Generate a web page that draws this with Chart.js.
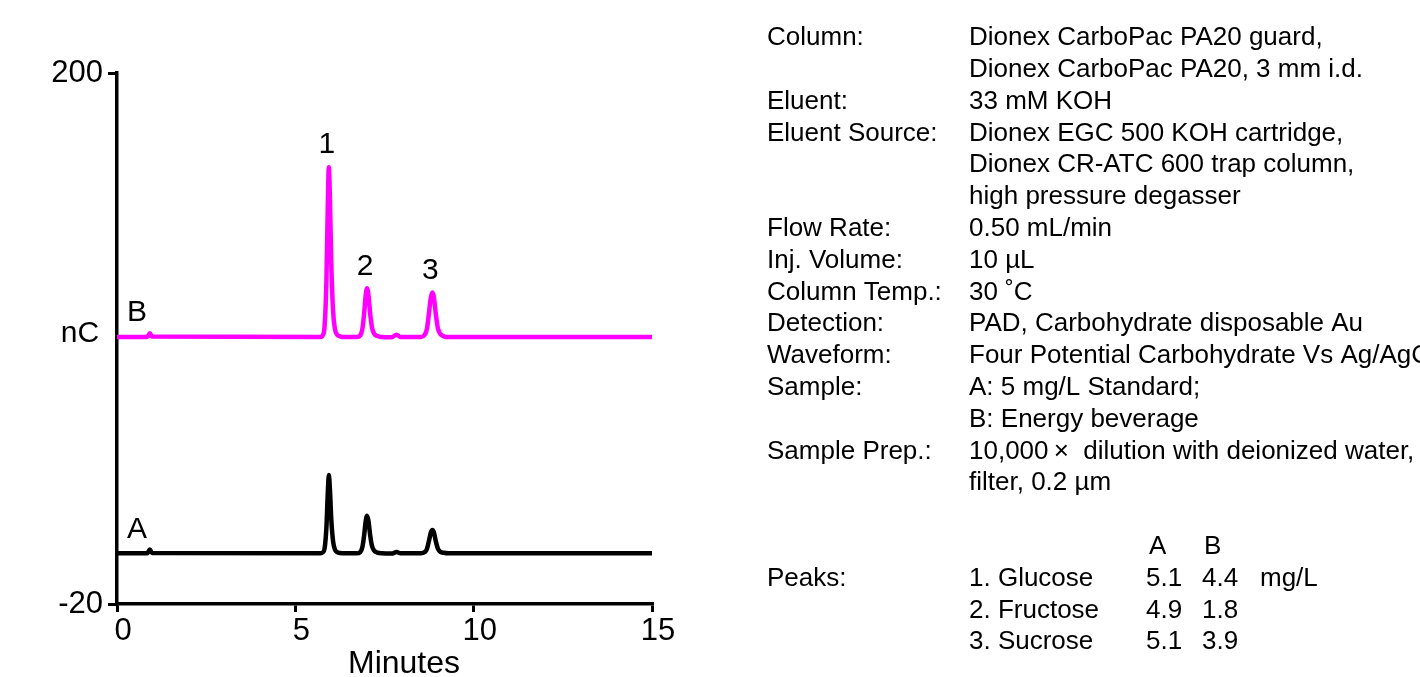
<!DOCTYPE html>
<html>
<head>
<meta charset="utf-8">
<script src="https://cdn.jsdelivr.net/npm/chart.js@4.4.1/dist/chart.umd.min.js"></script>
<style>
  html, body { margin: 0; padding: 0; background: #fff; }
  #wrap { width: 1420px; height: 677px; position: relative; }
</style>
</head>
<body>
<div id="wrap"><canvas id="c" width="1420" height="677"></canvas></div>
<script>
// ---- Data ----
const xTicks = [0, 5, 10, 15];
const yTicks = [-20, 200];

// Trace B (energy beverage), offset upward
const traceBTime  = [0, 0.85, 0.92, 0.98,
                     5.70, 5.77, 5.82, 5.87, 5.91, 5.94, 5.97, 6.01, 6.06, 6.11, 6.17, 6.25, 6.40,
                     6.72, 6.82, 6.88, 6.93, 6.97, 7.01, 7.05, 7.10, 7.15, 7.21, 7.30, 7.42,
                     7.70, 7.84, 7.95,
                     8.52, 8.62, 8.69, 8.75, 8.80, 8.84, 8.88, 8.94, 9.00, 9.07, 9.16, 9.30, 15];
const traceBValue = [90.6, 90.6, 92.2, 90.8,
                     90.6, 91.4, 95, 113, 145, 161, 148, 120, 101, 94, 91.6, 90.9, 90.6,
                     90.6, 91.3, 94, 100.5, 107.5, 110.8, 108, 100, 94.5, 92, 91, 90.6,
                     90.5, 91.6, 90.6,
                     90.6, 91.4, 94, 101, 107, 109.1, 107.5, 100, 94, 91.8, 90.9, 90.6, 90.6];

// Trace A (5 mg/L standard)
const traceATime  = [0, 0.85, 0.92, 0.98,
                     5.70, 5.77, 5.82, 5.87, 5.91, 5.94, 5.97, 6.01, 6.06, 6.11, 6.17, 6.25, 6.40,
                     6.72, 6.82, 6.88, 6.93, 6.97, 7.01, 7.05, 7.10, 7.15, 7.21, 7.30, 7.42,
                     7.70, 7.84, 7.95,
                     8.52, 8.62, 8.69, 8.75, 8.80, 8.84, 8.88, 8.94, 9.00, 9.07, 9.16, 9.30, 15];
const traceAValue = [1.0, 1.0, 2.6, 1.1,
                     1.0, 1.4, 3.0, 11.3, 26.0, 33.4, 27.4, 14.5, 5.8, 2.6, 1.5, 1.1, 1.0,
                     1.0, 1.5, 3.6, 8.6, 14.0, 16.6, 14.4, 8.3, 4.0, 2.1, 1.3, 1.0,
                     0.9, 1.5, 1.0,
                     1.0, 1.4, 2.8, 6.4, 9.6, 10.7, 9.9, 5.9, 2.8, 1.6, 1.2, 1.0, 1.0];

const peakLabels = ['1', '2', '3'];
const peakTimes  = [5.94, 7.01, 8.84];
const peakApexB  = [161, 110.8, 109.1];

const traceNames = ['B', 'A'];
const traceNameY = [90.6, 1.0];

const infoLabels = ['Column:', '', 'Eluent:', 'Eluent Source:', '', '', 'Flow Rate:', 'Inj. Volume:',
                    'Column Temp.:', 'Detection:', 'Waveform:', 'Sample:', '', 'Sample Prep.:', ''];
const infoValues = ['Dionex CarboPac PA20 guard,', 'Dionex CarboPac PA20, 3 mm i.d.', '33 mM KOH',
                    'Dionex EGC 500 KOH cartridge,', 'Dionex CR-ATC 600 trap column,', 'high pressure degasser',
                    '0.50 mL/min', '10 \u00B5L', '30 \u02DAC', 'PAD, Carbohydrate disposable Au',
                    'Four Potential Carbohydrate Vs Ag/AgCl', 'A: 5 mg/L Standard;', 'B: Energy beverage',
                    '10,000\u2009\u00D7  dilution with deionized water,', 'filter, 0.2 \u00B5m'];

const peakNames = ['1. Glucose', '2. Fructose', '3. Sucrose'];
const concA = ['5.1', '4.9', '5.1'];
const concB = ['4.4', '1.8', '3.9'];
const concUnit = 'mg/L';

// ---- Build datasets ----
const toXY = (xs, ys) => xs.map((x, i) => ({ x: x, y: ys[i] }));
const FONT = '"Liberation Sans", Arial, Helvetica, sans-serif';

const overlay = {
  id: 'overlay',
  afterDraw(chart) {
    const ctx = chart.ctx;
    const xs = chart.scales.x, ys = chart.scales.y;
    ctx.save();
    ctx.fillStyle = '#000';
    // peak numbers
    ctx.font = '30px ' + FONT;
    ctx.textAlign = 'center';
    ctx.textBaseline = 'middle';
    peakLabels.forEach((t, i) => {
      ctx.fillText(t, xs.getPixelForValue(peakTimes[i]) - 2, ys.getPixelForValue(peakApexB[i]) - 22);
    });
    // trace names
    traceNames.forEach((t, i) => {
      ctx.fillText(t, xs.getPixelForValue(0) + 20, ys.getPixelForValue(traceNameY[i]) - 24);
    });
    // y-axis unit
    ctx.fillText('nC', 80, 334);
    // x-axis title
    ctx.font = '32px ' + FONT;
    ctx.fillText('Minutes', 404, 664);

    // info panel
    ctx.font = '26px ' + FONT;
    ctx.textAlign = 'left';
    const rowY = k => 38 + 31.8 * k;
    infoLabels.forEach((t, k) => { if (t) ctx.fillText(t, 767, rowY(k)); });
    infoValues.forEach((t, k) => { ctx.fillText(t, 969, rowY(k)); });
    ctx.fillText('A', 1149, rowY(16));
    ctx.fillText('B', 1204, rowY(16));
    ctx.fillText('Peaks:', 767, rowY(17));
    peakNames.forEach((t, i) => {
      ctx.fillText(t, 969, rowY(17 + i));
      ctx.fillText(concA[i], 1146, rowY(17 + i));
      ctx.fillText(concB[i], 1202, rowY(17 + i));
    });
    ctx.fillText(concUnit, 1260, rowY(17));
    ctx.restore();
  }
};

new Chart(document.getElementById('c'), {
  type: 'line',
  data: {
    datasets: [
      { label: 'B', data: toXY(traceBTime, traceBValue), borderColor: '#FF00FF', borderWidth: 4.5,
        pointRadius: 0, cubicInterpolationMode: 'monotone', fill: false, borderJoinStyle: 'round', borderCapStyle: 'round' },
      { label: 'A', data: toXY(traceATime, traceAValue), borderColor: '#000000', borderWidth: 4.5,
        pointRadius: 0, cubicInterpolationMode: 'monotone', fill: false, borderJoinStyle: 'round', borderCapStyle: 'round' }
    ]
  },
  options: {
    responsive: false,
    animation: false,
    layout: { padding: { top: 73, right: 768, left: 0, bottom: 0 } },
    plugins: { legend: { display: false }, tooltip: { enabled: false } },
    scales: {
      x: {
        type: 'linear', min: 0, max: 15,
        afterBuildTicks: s => { s.ticks = xTicks.map(v => ({ value: v })); },
        afterFit: s => { s.height = 73; },
        ticks: { color: '#000', font: { family: FONT, size: 31 }, padding: 1, labelOffset: 6, maxRotation: 0 },
        grid: { drawOnChartArea: false, drawTicks: true, tickLength: 8, color: '#000', lineWidth: 3 },
        border: { display: true, color: '#000', width: 3.5 }
      },
      y: {
        min: -20, max: 200,
        afterBuildTicks: s => { s.ticks = yTicks.map(v => ({ value: v })); },
        afterFit: s => { s.width = 117; },
        ticks: { color: '#000', font: { family: FONT, size: 31 }, padding: 5 },
        grid: { drawOnChartArea: false, drawTicks: true, tickLength: 9, color: '#000', lineWidth: 3 },
        border: { display: true, color: '#000', width: 3.5 }
      }
    }
  },
  plugins: [overlay]
});
</script>
</body>
</html>
